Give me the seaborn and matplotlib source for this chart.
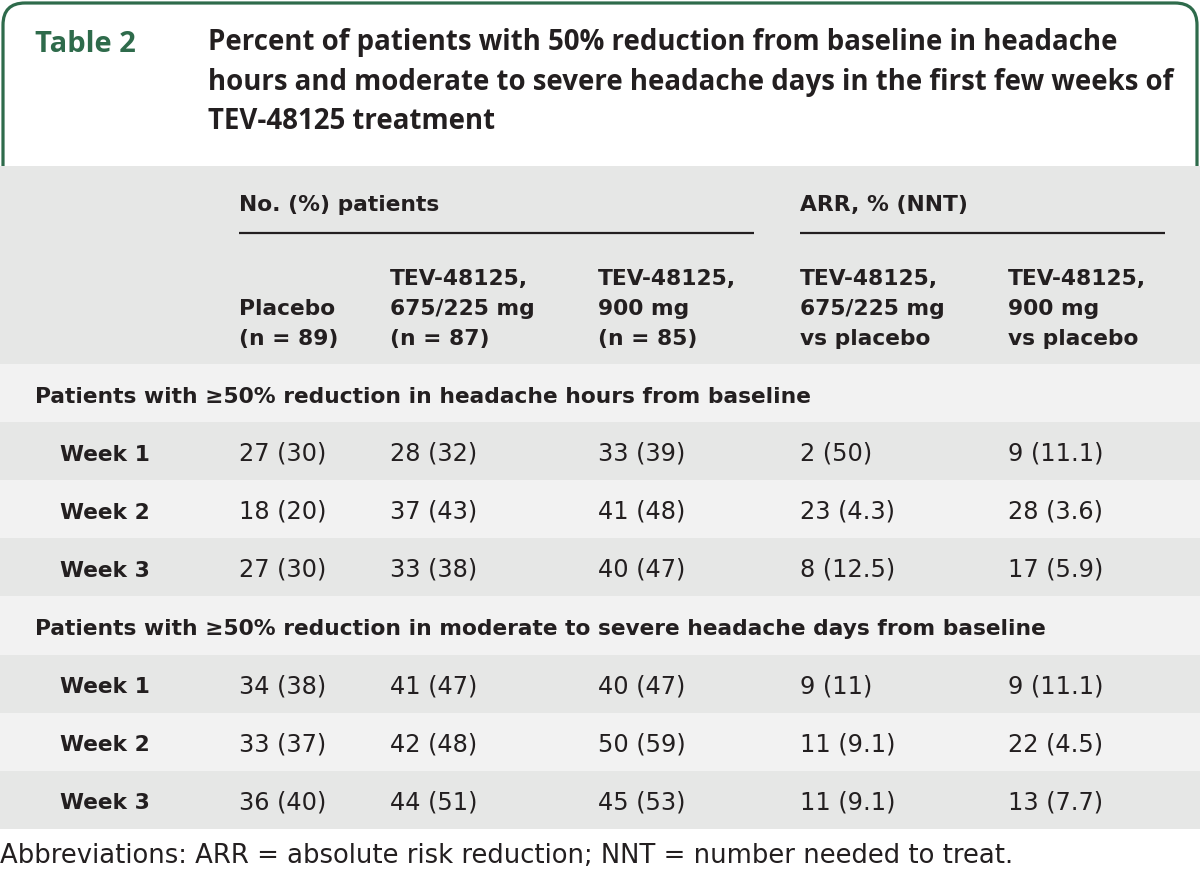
import matplotlib
matplotlib.use("Agg")
import matplotlib.pyplot as plt
from matplotlib.patches import FancyBboxPatch, Rectangle
from matplotlib import font_manager as fm
import seaborn as sns

# ---------------- data ----------------
table_label = "Table 2"
title_lines = [
    "Percent of patients with 50% reduction from baseline in headache",
    "hours and moderate to severe headache days in the first few weeks of",
    "TEV-48125 treatment",
]
group_headers = ["No. (%) patients", "ARR, % (NNT)"]
column_headers = [
    ["Placebo", "(n = 89)"],
    ["TEV-48125,", "675/225 mg", "(n = 87)"],
    ["TEV-48125,", "900 mg", "(n = 85)"],
    ["TEV-48125,", "675/225 mg", "vs placebo"],
    ["TEV-48125,", "900 mg", "vs placebo"],
]
section_titles = [
    "Patients with \u226550% reduction in headache hours from baseline",
    "Patients with \u226550% reduction in moderate to severe headache days from baseline",
]
week_labels = ["Week 1", "Week 2", "Week 3"]
hours_values = [
    ["27 (30)", "28 (32)", "33 (39)", "2 (50)", "9 (11.1)"],
    ["18 (20)", "37 (43)", "41 (48)", "23 (4.3)", "28 (3.6)"],
    ["27 (30)", "33 (38)", "40 (47)", "8 (12.5)", "17 (5.9)"],
]
days_values = [
    ["34 (38)", "41 (47)", "40 (47)", "9 (11)", "9 (11.1)"],
    ["33 (37)", "42 (48)", "50 (59)", "11 (9.1)", "22 (4.5)"],
    ["36 (40)", "44 (51)", "45 (53)", "11 (9.1)", "13 (7.7)"],
]
footnote = "Abbreviations: ARR = absolute risk reduction; NNT = number needed to treat."

# ---------------- style ----------------
sns.set_theme(style="white")
plt.rcParams["font.family"] = ["DejaVu Sans"]

GREEN = "#2e6b4b"
TEXT = "#231f20"
DARK_BAND = "#e6e7e6"
LIGHT_BAND = "#f2f2f2"
FS_B = 15.7
FS_R = 17.3


def title_font(size):
    return fm.FontProperties(family=["Open Sans", "DejaVu Sans"], weight="bold", size=size)


fig = plt.figure(figsize=(12, 8.86), dpi=100)
ax = fig.add_axes([0, 0, 1, 1])
ax.set_xlim(0, 1200)
ax.set_ylim(886, 0)
ax.axis("off")

# title box (rounded, open at the bottom)
ax.add_patch(FancyBboxPatch((3, 3), 1194, 260, boxstyle="round,pad=0,rounding_size=22",
                            facecolor="white", edgecolor=GREEN, linewidth=2.3, zorder=1))
ax.text(35, 52, table_label, color=GREEN, va="baseline", fontproperties=title_font(21), zorder=3)
for i, line in enumerate(title_lines):
    ax.text(208, 50 + i * 39.5, line, color=TEXT, va="baseline",
            fontproperties=title_font(19.9), zorder=3)

# header band
ax.add_patch(Rectangle((0, 166), 1200, 198, facecolor=DARK_BAND, edgecolor="none", zorder=2))

col_x = [239, 390, 598, 800, 1008]
ax.text(239, 211, group_headers[0], color=TEXT, fontsize=FS_B, fontweight="bold", va="baseline", zorder=3)
ax.text(800, 211, group_headers[1], color=TEXT, fontsize=FS_B, fontweight="bold", va="baseline", zorder=3)
ax.plot([239, 754], [233, 233], color=TEXT, lw=1.6, zorder=3, solid_capstyle="butt")
ax.plot([800, 1165], [233, 233], color=TEXT, lw=1.6, zorder=3, solid_capstyle="butt")

baselines = [285, 315, 345]
for x, lines in zip(col_x, column_headers):
    offset = 3 - len(lines)
    for j, t in enumerate(lines):
        ax.text(x, baselines[offset + j], t, color=TEXT, fontsize=FS_B, fontweight="bold",
                va="baseline", zorder=3)

# body rows
row_h = 58.1
y = 364
for sec_title, values in zip(section_titles, [hours_values, days_values]):
    ax.add_patch(Rectangle((0, y), 1200, row_h, facecolor=LIGHT_BAND, edgecolor="none", zorder=2))
    ax.text(35, y + row_h / 2 + 9.5, sec_title, color=TEXT, fontsize=FS_B, fontweight="bold",
            va="baseline", zorder=3)
    y += row_h
    for k, (wk, vals) in enumerate(zip(week_labels, values)):
        band = DARK_BAND if k % 2 == 0 else LIGHT_BAND
        ax.add_patch(Rectangle((0, y), 1200, row_h, facecolor=band, edgecolor="none", zorder=2))
        ax.text(60, y + row_h / 2 + 9.5, wk, color=TEXT, fontsize=FS_B, fontweight="bold",
                va="baseline", zorder=3)
        for x, v in zip(col_x, vals):
            ax.text(x, y + row_h / 2 + 9.5, v, color=TEXT, fontsize=FS_R, va="baseline", zorder=3)
        y += row_h

ax.text(0, 863, footnote, color=TEXT, fontsize=18.6, va="baseline", zorder=3)

fig.savefig("out.png", dpi=100, facecolor="white")
